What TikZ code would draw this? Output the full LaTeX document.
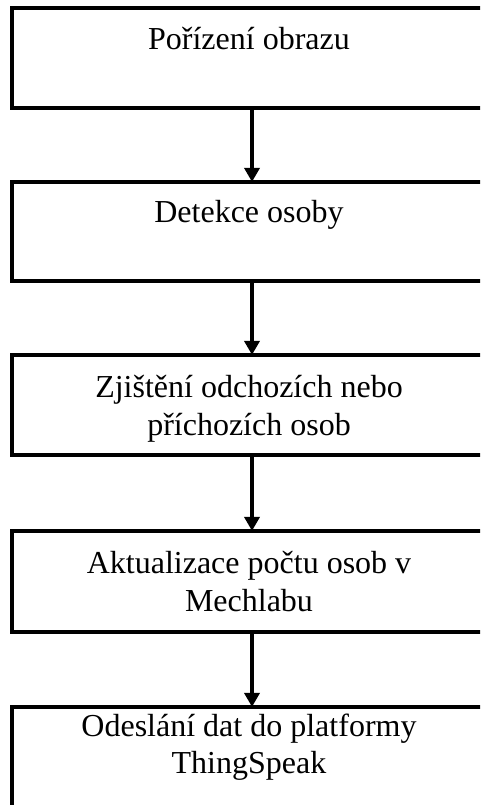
\documentclass[tikz,border=0pt]{standalone}
\usepackage{fontspec}
\setmainfont{Liberation Serif}
\usetikzlibrary{arrows.meta}
\begin{document}
\begin{tikzpicture}[x=1pt,y=-1pt,
  stepbox/.style={draw=black,line width=4.2pt,minimum width=480pt,inner sep=0pt,fill=white},
  label/.style={font=\fontsize{32}{38}\selectfont,anchor=base,inner sep=0pt,align=center},
  conn/.style={line width=4.2pt,-{Triangle[width=15pt,length=14pt]}}]
\useasboundingbox (0,0) rectangle (480,805);
\clip (0,0) rectangle (480,805);
\fill[white] (0,0) rectangle (480,805);
\node[stepbox,minimum height=100pt] (b1) at (252,58) {};
\node[stepbox,minimum height=99pt] (b2) at (252,231.5) {};
\node[stepbox,minimum height=100pt] (b3) at (252,405) {};
\node[stepbox,minimum height=101pt] (b4) at (252,581.5) {};
\node[stepbox,minimum height=110pt] (b5) at (252,762) {};
\node[label] (t1) at (249,50) {Pořízení obrazu};
\node[label] (t2) at (249,222) {Detekce osoby};
\node[label] (t3) at (249,397) {Zjištění odchozích nebo};
\node[label] (t3b) at (249,435) {příchozích osob};
\node[label] (t4) at (249,573) {Aktualizace počtu osob v};
\node[label] (t4b) at (249,611) {Mechlabu};
\node[label] (t5) at (249,736) {Odeslání dat do platformy};
\node[label] (t5b) at (249,773) {ThingSpeak};
\draw[conn] (b1.south) -- ([yshift=-2pt]b2.north);
\draw[conn] (b2.south) -- ([yshift=-2pt]b3.north);
\draw[conn] (b3.south) -- ([yshift=-2pt]b4.north);
\draw[conn] (b4.south) -- ([yshift=-2pt]b5.north);
\end{tikzpicture}
\end{document}
